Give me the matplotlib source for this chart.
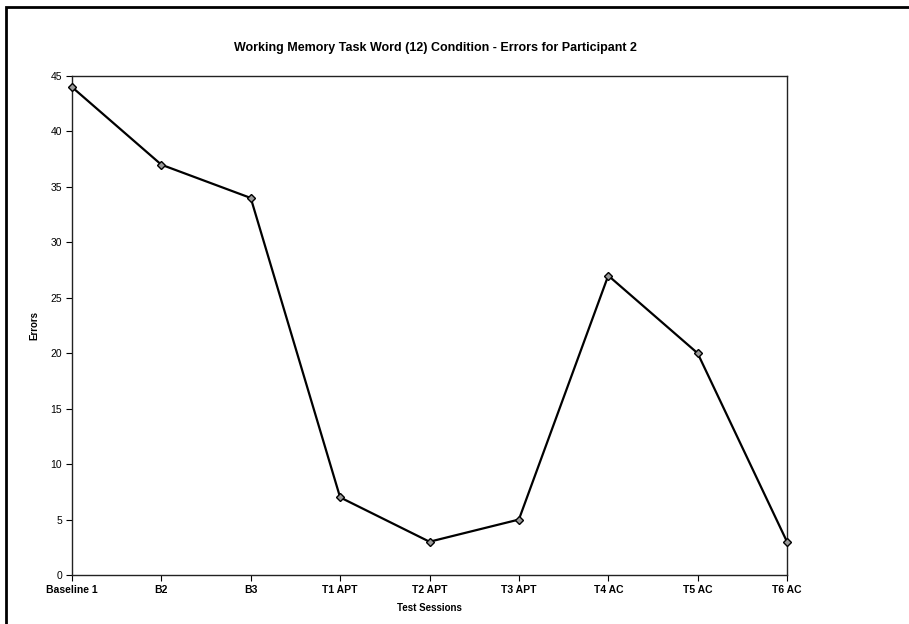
import matplotlib.pyplot as plt
from matplotlib.patches import Rectangle

# --- data
sessions = ["Baseline 1", "B2", "B3", "T1 APT", "T2 APT", "T3 APT", "T4 AC", "T5 AC", "T6 AC"]
errors = [44, 37, 34, 7, 3, 5, 27, 20, 3]
yticks = [0, 5, 10, 15, 20, 25, 30, 35, 40, 45]

plt.rcParams['font.family'] = ['Liberation Sans', 'DejaVu Sans']

# --- figure
W, H = 909, 624
fig = plt.figure(figsize=(W / 100, H / 100), dpi=100)

# outer chart border (left/top visible, runs off the page)
fig.patches.append(Rectangle((6 / W, -0.1), 1.2, (624 - 7) / H + 0.1,
                             transform=fig.transFigure, fill=False,
                             lw=2, ec="black"))

ax = fig.add_axes([72 / W, (H - 575) / H, (787 - 72) / W, (575 - 76) / H])

x = list(range(len(sessions)))
ax.plot(x, errors, color="black", lw=1.6, marker="D", ms=4,
        mfc="#9a9a9a", mec="black", mew=1.0, zorder=3, clip_on=False)

ax.set_xlim(0, len(sessions) - 1)
ax.set_ylim(0, 45)
ax.set_xticks(x)
ax.set_xticklabels(sessions, fontsize=7.5, fontweight="bold")
ax.set_yticks(yticks)
ax.set_yticklabels([str(v) for v in yticks], fontsize=7.5)

for sp in ax.spines.values():
    sp.set_linewidth(1.0)
    sp.set_color("#222222")
ax.tick_params(axis="both", direction="out", length=4, width=0.8, pad=3)

ax.set_xlabel("Test Sessions", fontsize=7, fontweight="bold", labelpad=6)
ax.set_ylabel("Errors", fontsize=7, fontweight="bold", labelpad=8)

fig.text(435 / W, 1 - 48 / H,
         "Working Memory Task Word (12) Condition - Errors for Participant 2",
         ha="center", va="center", fontsize=9, fontweight="bold")

fig.savefig("out.png", dpi=100)
